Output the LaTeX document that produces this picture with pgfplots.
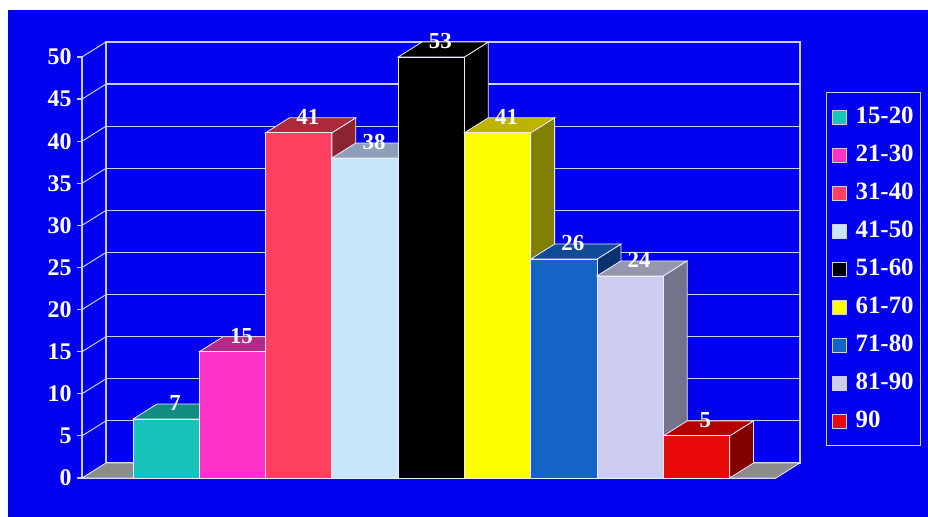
\documentclass[border=0pt]{standalone}
\usepackage{fontspec}
\setmainfont{Liberation Serif}
\usepackage{pgfplots}
\pgfplotsset{compat=1.18}
\definecolor{bg}{RGB}{2,2,240}
\definecolor{gridc}{RGB}{205,205,250}
\definecolor{edge}{RGB}{235,235,255}
\definecolor{floorc}{RGB}{140,140,140}
\definecolor{c1}{RGB}{25,195,185}\definecolor{t1}{RGB}{20,140,130}\definecolor{s1}{RGB}{15,110,105}
\definecolor{c2}{RGB}{255,50,200}\definecolor{t2}{RGB}{180,40,140}\definecolor{s2}{RGB}{140,30,110}
\definecolor{c3}{RGB}{255,65,95}\definecolor{t3}{RGB}{175,40,60}\definecolor{s3}{RGB}{140,35,50}
\definecolor{c4}{RGB}{200,230,250}\definecolor{t4}{RGB}{140,160,185}\definecolor{s4}{RGB}{110,125,150}
\definecolor{c5}{RGB}{0,0,0}\definecolor{t5}{RGB}{0,0,0}\definecolor{s5}{RGB}{0,0,0}
\definecolor{c6}{RGB}{255,255,0}\definecolor{t6}{RGB}{190,180,0}\definecolor{s6}{RGB}{128,128,0}
\definecolor{c7}{RGB}{20,100,200}\definecolor{t7}{RGB}{15,75,150}\definecolor{s7}{RGB}{10,50,110}
\definecolor{c8}{RGB}{205,205,240}\definecolor{t8}{RGB}{150,150,175}\definecolor{s8}{RGB}{115,115,140}
\definecolor{c9}{RGB}{235,10,10}\definecolor{t9}{RGB}{180,0,0}\definecolor{s9}{RGB}{130,0,0}
\pgfplotsset{
  face/.style={forget plot, draw=edge, line width=0.8bp},
  mybar/.style={ybar, bar width=1, bar shift=0pt, draw=edge, line width=0.8bp,
    point meta=explicit symbolic, nodes near coords,
    legend image code/.code={\draw[##1, draw=gridc, line width=1bp] (0bp,-7bp) rectangle (14bp,7bp);}},
}
\begin{document}
\begin{tikzpicture}[x=1bp,y=1bp]
\path[use as bounding box] (0,0) rectangle (928,517);
\fill[white] (0,0) rectangle (928,517);
\fill[bg] (8,0) rectangle (928,507);
% back wall
\begin{axis}[at={(106bp,54bp)}, anchor=south west, scale only axis,
  width=694bp, height=421bp, xmin=-0.27, xmax=10.2, ymin=0, ymax=50,
  ytick distance=5, ymajorgrids, xtick=\empty, yticklabels={}, major tick length=0pt,
  axis line style={gridc, line width=1.2bp}, grid style={gridc, line width=1.2bp}]
\end{axis}
\foreach \k in {5,10,...,50} \draw[gridc, line width=1bp] (82,{39+8.42*\k}) -- (106,{54+8.42*\k});
\begin{axis}[at={(82bp,39bp)}, anchor=south west, scale only axis,
  width=694bp, height=421bp, xmin=-0.27, xmax=10.2, ymin=0, ymax=50, clip=false,
  axis x line*=bottom, axis y line*=left, xtick=\empty, ytick distance=5,
  tick align=outside, major tick length=5bp,
  tick style={gridc, line width=1.2bp}, axis line style={gridc, line width=1.2bp},
  /pgf/number format/assume math mode=true,
  yticklabel style={font=\fontsize{24}{24}\selectfont\bfseries, text=white, xshift=-2bp},
  every node near coord/.append style={font=\fontsize{23}{23}\selectfont\bfseries, text=white, anchor=center, xshift=9bp, yshift=16bp},
  legend style={at={(1.072,0.917)}, anchor=north west, fill=bg, draw=gridc, line width=1.2bp,
    text=white, font=\fontsize{25}{25}\selectfont\bfseries, row sep=13bp,
    inner xsep=5bp, inner ysep=12bp,
    nodes={inner sep=2bp, text height=17bp, text depth=4bp},
    /tikz/every odd column/.append style={column sep=7bp}},
  legend cell align=left]
% floor
\addplot[face, fill=floorc] coordinates {(-0.27,0) (10.2,0) (10.56,1.78) (0.09,1.78)} -- cycle;
% bar 1
\addplot[face, fill=s1] coordinates {(1.5,0) (1.5,7) (1.86,8.78) (1.86,1.78)} -- cycle;
\addplot[face, fill=t1] coordinates {(0.5,7) (1.5,7) (1.86,8.78) (0.86,8.78)} -- cycle;
\addplot[mybar, fill=c1] coordinates {(1,7) [7]};
\addlegendentry{15-20}
% bar 2
\addplot[face, fill=s2] coordinates {(2.5,0) (2.5,15) (2.86,16.78) (2.86,1.78)} -- cycle;
\addplot[face, fill=t2] coordinates {(1.5,15) (2.5,15) (2.86,16.78) (1.86,16.78)} -- cycle;
\addplot[mybar, fill=c2] coordinates {(2,15) [15]};
\addlegendentry{21-30}
% bar 3
\addplot[face, fill=s3] coordinates {(3.5,0) (3.5,41) (3.86,42.78) (3.86,1.78)} -- cycle;
\addplot[face, fill=t3] coordinates {(2.5,41) (3.5,41) (3.86,42.78) (2.86,42.78)} -- cycle;
\addplot[mybar, fill=c3] coordinates {(3,41) [41]};
\addlegendentry{31-40}
% bar 4
\addplot[face, fill=s4] coordinates {(4.5,0) (4.5,38) (4.86,39.78) (4.86,1.78)} -- cycle;
\addplot[face, fill=t4] coordinates {(3.5,38) (4.5,38) (4.86,39.78) (3.86,39.78)} -- cycle;
\addplot[mybar, fill=c4] coordinates {(4,38) [38]};
\addlegendentry{41-50}
% bar 5 (value 53, drawn up to the axis top 50)
\addplot[face, fill=s5] coordinates {(5.5,0) (5.5,50) (5.86,51.78) (5.86,1.78)} -- cycle;
\addplot[face, fill=t5] coordinates {(4.5,50) (5.5,50) (5.86,51.78) (4.86,51.78)} -- cycle;
\addplot[mybar, fill=c5] coordinates {(5,50) [53]};
\addlegendentry{51-60}
% bar 6
\addplot[face, fill=s6] coordinates {(6.5,0) (6.5,41) (6.86,42.78) (6.86,1.78)} -- cycle;
\addplot[face, fill=t6] coordinates {(5.5,41) (6.5,41) (6.86,42.78) (5.86,42.78)} -- cycle;
\addplot[mybar, fill=c6] coordinates {(6,41) [41]};
\addlegendentry{61-70}
% bar 7
\addplot[face, fill=s7] coordinates {(7.5,0) (7.5,26) (7.86,27.78) (7.86,1.78)} -- cycle;
\addplot[face, fill=t7] coordinates {(6.5,26) (7.5,26) (7.86,27.78) (6.86,27.78)} -- cycle;
\addplot[mybar, fill=c7] coordinates {(7,26) [26]};
\addlegendentry{71-80}
% bar 8
\addplot[face, fill=s8] coordinates {(8.5,0) (8.5,24) (8.86,25.78) (8.86,1.78)} -- cycle;
\addplot[face, fill=t8] coordinates {(7.5,24) (8.5,24) (8.86,25.78) (7.86,25.78)} -- cycle;
\addplot[mybar, fill=c8] coordinates {(8,24) [24]};
\addlegendentry{81-90}
% bar 9
\addplot[face, fill=s9] coordinates {(9.5,0) (9.5,5) (9.86,6.78) (9.86,1.78)} -- cycle;
\addplot[face, fill=t9] coordinates {(8.5,5) (9.5,5) (9.86,6.78) (8.86,6.78)} -- cycle;
\addplot[mybar, fill=c9] coordinates {(9,5) [5]};
\addlegendentry{90}
\end{axis}
\end{tikzpicture}
\end{document}
